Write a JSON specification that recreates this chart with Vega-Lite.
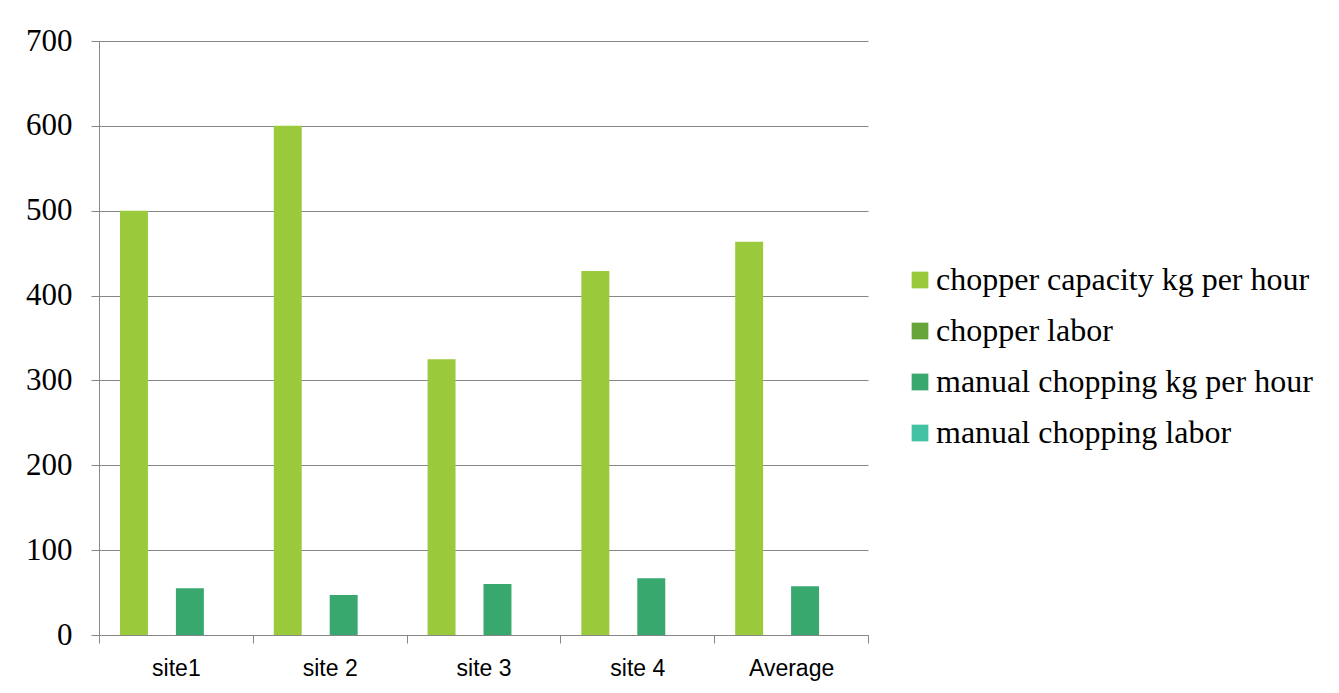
{
  "$schema": "https://vega.github.io/schema/vega-lite/v6.json",
  "width": 769,
  "height": 594,
  "autosize": {"type": "none"},
  "padding": {"left": 99, "top": 41, "right": 471, "bottom": 58},
  "background": "white",
  "data": {
    "values": [
      {"site": "site1", "series": "chopper capacity kg per hour", "value": 500},
      {"site": "site1", "series": "chopper labor", "value": 0},
      {"site": "site1", "series": "manual chopping kg per hour", "value": 55},
      {"site": "site1", "series": "manual chopping labor", "value": 0},
      {"site": "site 2", "series": "chopper capacity kg per hour", "value": 600},
      {"site": "site 2", "series": "chopper labor", "value": 0},
      {"site": "site 2", "series": "manual chopping kg per hour", "value": 47},
      {"site": "site 2", "series": "manual chopping labor", "value": 0},
      {"site": "site 3", "series": "chopper capacity kg per hour", "value": 325},
      {"site": "site 3", "series": "chopper labor", "value": 0},
      {"site": "site 3", "series": "manual chopping kg per hour", "value": 60},
      {"site": "site 3", "series": "manual chopping labor", "value": 0},
      {"site": "site 4", "series": "chopper capacity kg per hour", "value": 429},
      {"site": "site 4", "series": "chopper labor", "value": 0},
      {"site": "site 4", "series": "manual chopping kg per hour", "value": 67},
      {"site": "site 4", "series": "manual chopping labor", "value": 0},
      {"site": "Average", "series": "chopper capacity kg per hour", "value": 463.5},
      {"site": "Average", "series": "chopper labor", "value": 0},
      {"site": "Average", "series": "manual chopping kg per hour", "value": 57.5},
      {"site": "Average", "series": "manual chopping labor", "value": 0}
    ]
  },
  "mark": {"type": "bar"},
  "encoding": {
    "x": {
      "field": "site",
      "type": "nominal",
      "sort": ["site1", "site 2", "site 3", "site 4", "Average"],
      "scale": {"paddingInner": 0, "paddingOuter": 0},
      "axis": {
        "title": null,
        "labelAngle": 0,
        "tickBand": "extent",
        "domainColor": "#878787",
        "tickColor": "#878787",
        "tickSize": 8,
        "labelFont": "Liberation Sans",
        "labelFontSize": 23,
        "labelColor": "#000000",
        "labelPadding": 14,
        "grid": false
      }
    },
    "xOffset": {
      "field": "series",
      "sort": ["chopper capacity kg per hour", "chopper labor", "manual chopping kg per hour", "manual chopping labor"],
      "scale": {"paddingInner": 0, "paddingOuter": 0.75}
    },
    "y": {
      "field": "value",
      "type": "quantitative",
      "scale": {"domain": [0, 700]},
      "axis": {
        "title": null,
        "values": [0, 100, 200, 300, 400, 500, 600, 700],
        "gridColor": "#878787",
        "domainColor": "#878787",
        "tickColor": "#878787",
        "tickSize": 8,
        "labelFont": "Times New Roman",
        "labelFontSize": 31,
        "labelFontWeight": "normal",
        "labelColor": "#000000",
        "labelPadding": 19
      }
    },
    "color": {
      "field": "series",
      "type": "nominal",
      "sort": ["chopper capacity kg per hour", "chopper labor", "manual chopping kg per hour", "manual chopping labor"],
      "scale": {
        "domain": ["chopper capacity kg per hour", "chopper labor", "manual chopping kg per hour", "manual chopping labor"],
        "range": ["#9ACA3C", "#67A43A", "#38A86F", "#43C3A3"]
      },
      "legend": {
        "title": null,
        "orient": "none",
        "legendX": 805,
        "legendY": 223,
        "symbolType": "square",
        "symbolSize": 280,
        "symbolStrokeWidth": 0,
        "symbolOpacity": 1,
        "labelFont": "Liberation Serif",
        "labelFontSize": 32,
        "labelColor": "#000000",
        "labelOffset": 0,
        "labelLimit": 0,
        "rowPadding": 19,
        "padding": 0
      }
    }
  },
  "config": {
    "view": {"stroke": null}
  }
}
